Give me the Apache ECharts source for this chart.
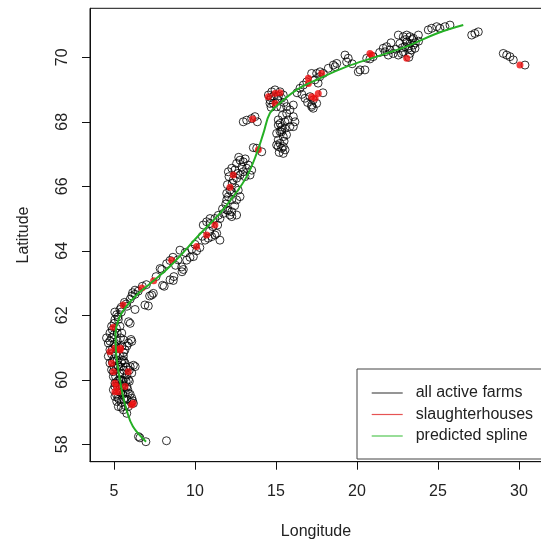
<!DOCTYPE html>
<html>
<head>
<meta charset="utf-8">
<script src="https://cdn.jsdelivr.net/npm/echarts@6/dist/echarts.min.js"></script>
<style>html,body{margin:0;padding:0;background:#fff}#c{width:541px;height:540px}</style>
</head>
<body>
<div id="c"></div>
<script>
// tick values
var xTicks = [5, 10, 15, 20, 25, 30];
var yTicks = [58, 60, 62, 64, 66, 68, 70];
var legendNames = ['all active farms', 'slaughterhouses', 'predicted spline'];
var legendColors = ['#222222', '#e02828', '#28b828'];

// all active farms [longitude, latitude]
var farmsSouth = [
  [6.51,58.24],[6.6,58.2],[6.97,58.08],[8.24,58.11],
  [5.37,62.18],[5.17,62.02],[5.06,61.87],[4.85,61.66],[4.75,61.45],[4.54,61.30],[4.65,61.14],[4.75,60.93],
  [4.65,60.73],[4.75,60.52],[4.85,60.31],[4.96,60.10],[5.06,59.90],[4.96,59.69],[5.06,59.48],[5.17,59.33],
  [5.27,59.17],[5.58,59.07],[5.79,58.96],
  [5.27,61.87],[5.37,61.66],[5.48,61.45],[5.58,61.24],[5.89,61.14],[6.10,61.19],[5.68,60.93],[5.58,60.73],
  [5.68,60.52],[6.00,60.41],[6.31,60.41],[6.10,60.21],[5.89,60.00],[5.79,59.79],[5.89,59.59],[6.10,59.43],
  [6.20,59.27],[5.89,59.17],
  [5.3,61.0],[5.2,60.6],[5.4,60.4],[5.3,60.0],[5.5,59.8],[5.4,59.6],[5.6,59.4],[5.5,60.2],[5.1,60.8],
  [5.2,61.2],[5.0,61.4],[5.4,60.0],[5.0,60.4],[5.5,60.6],[5.7,59.6],[5.2,59.8],[5.0,61.1],[5.3,59.4],
  [5.9,61.8],[6.0,61.75],[6.3,62.18],[5.8,62.28],[6.1,62.6],[6.3,62.65],[6.91,62.32],[7.12,62.29],
  [7.33,62.63],[7.43,62.68],[8.1,62.9],[8.0,62.93],[8.7,63.2],[9.2,63.35],
  [5.45,62.1],[5.25,61.95],[5.0,61.75],[5.15,61.6],[4.9,61.55],[5.2,61.45],[4.85,61.3],[5.4,61.3],
  [4.75,61.2],[5.1,61.05],[5.5,61.05],[4.9,60.95],[5.6,60.85],[4.85,60.8],[5.35,60.75],[5.0,60.65],
  [5.6,60.6],[4.9,60.55],[5.25,60.45],[5.75,60.4],[5.15,60.35],[5.6,60.3],[4.95,60.25],[5.35,60.2],
  [5.8,60.15],[5.1,60.1],[5.65,60.05],[5.2,59.95],[5.95,59.95],[5.05,59.8],[5.6,59.75],[5.35,59.7],
  [5.85,59.7],[5.15,59.55],[5.55,59.55],[6.0,59.55],[5.25,59.45],[5.8,59.4],[5.45,59.3],[6.05,59.3],
  [5.7,59.2],[5.45,59.15],[6.15,59.35],[5.95,60.3],[6.2,60.45],[5.8,61.05],[6.05,61.25],[5.05,62.1],
  [5.45,62.25],[5.65,62.4],[5.75,62.35],[6.0,62.5],[6.15,62.7],[6.5,62.75],[6.75,62.9],[5.55,59.95],
  [5.75,59.95],[5.45,60.55]
];
var farmsCentral = [
  [6.30,62.78],[7.2,62.6],[7.85,63.45],[7.95,63.42],[8.46,63.1],[8.66,63.08],[8.25,63.6],[8.46,63.7],
  [8.64,63.8],[8.95,63.72],[9.07,64.02],[9.18,63.5],[9.28,63.42],[9.69,63.8],[9.9,63.82],[9.49,63.71],
  [10.1,64.0],[10.3,64.1],[10.62,64.33],[10.82,64.39],[11.03,64.44],[11.23,64.49],[10.51,64.8],[10.72,64.9],
  [10.93,65.0],[11.23,65.0],[11.44,65.1],[11.34,64.54],[11.54,64.33],[10.93,64.85],[11.54,65.0],
  [11.75,65.16],[11.96,65.27],[12.27,65.21],[12.16,65.11],[11.96,65.58],[12.06,65.68],[12.27,65.58],
  [12.16,65.88],[12.27,65.83],[11.96,65.78],[12.36,66.20],[12.57,66.25],[12.78,66.35],[12.98,66.45],
  [13.19,66.56],[13.29,66.66],[12.06,66.45],[12.27,66.56],[12.47,66.51],[12.57,66.71],[12.78,66.81],
  [12.98,66.76],[13.09,66.30],[13.40,66.35],[12.67,65.88],[12.78,65.68],[12.57,65.58],[12.27,65.06],
  [12.57,65.11],[13.81,67.18],[14.12,67.07],[12.98,68.0],[13.19,68.05],[13.50,68.1],[13.70,68.16],
  [7.6,63.2],[7.0,62.95],[8.8,63.55],[9.4,63.95],[9.8,64.05],[10.0,64.2],[10.45,64.45],[10.9,64.6],
  [11.1,64.75],[11.4,64.8],[11.7,65.3],[11.9,65.45],[12.0,66.05],[12.3,66.1],[12.5,65.95],[12.1,66.3],
  [12.65,66.4],[12.9,66.6],[13.1,66.85],[12.7,66.9],[13.5,66.5],[12.45,65.4],[12.05,65.25],[13.6,67.2],
  [13.85,68.0]
];
var farmsNorth = [
  [14.63,68.57],[15.14,68.06],[15.25,67.95],[15.35,67.85],[15.35,67.69],[15.45,67.54],[15.25,67.33],
  [15.35,67.18],[15.56,67.13],[15.45,67.02],[15.14,67.44],[15.04,67.28],[15.66,68.26],[15.76,68.06],
  [14.53,68.83],[14.74,68.93],[14.94,68.99],[15.25,68.93],[14.63,68.68],[14.84,68.57],[15.04,68.47],
  [15.35,68.73],[15.45,68.83],[15.66,68.47],[15.86,68.37],[16.07,68.52],[15.14,67.90],[15.35,67.75],
  [15.04,67.64],[15.14,67.23],[15.45,67.23],[16.07,68.16],[16.17,68.0],[16.07,67.85],[15.86,67.85],
  [15.56,67.80],[16.48,69.04],[16.69,69.14],[16.90,69.24],[16.79,68.73],[17.10,68.78],[17.30,68.68],
  [17.51,68.57],[17.20,68.52],[17.2,68.47],[17.3,68.42],[17.2,69.50],[17.51,69.50],[17.72,69.55],
  [17.92,69.50],[18.23,69.66],[18.54,69.76],[19.26,70.07],[19.46,69.97],[19.36,69.86],[18.75,69.81],
  [18.65,69.71],[20.08,69.55],[20.19,69.61],[20.49,69.61],[20.60,69.97],[21.0,70.02],[21.62,70.28],
  [21.83,70.33],[22.04,70.23],[21.73,70.17],[21.93,70.07],[22.24,70.12],[22.55,70.07],[22.75,70.12],
  [22.55,70.69],[22.86,70.64],[23.07,70.69],[23.27,70.64],[23.48,70.59],[23.79,70.69],[23.07,70.48],
  [23.27,70.43],[23.48,70.38],[23.17,70.28],[23.37,70.23],[23.58,70.28],[22.96,70.33],[23.27,70.12],
  [22.86,70.17],[22.65,70.43],[24.40,70.85],[24.61,70.90],[24.92,70.95],[25.12,70.90],[25.43,70.95],
  [25.74,71.0],[27.08,70.69],[27.28,70.74],[27.49,70.79],[29.03,70.12],[29.24,70.07],[29.44,70.02],
  [29.65,69.92],[30.37,69.76],
  [14.7,68.75],[14.85,68.8],[15.1,68.7],[15.15,68.8],[14.7,68.45],[15.5,68.6],[15.3,68.45],[15.4,68.2],
  [15.55,68.0],[15.25,67.7],[15.5,67.4],[15.2,67.05],[15.65,67.6],[16.3,68.9],[16.6,68.85],[17.4,69.3],
  [17.6,69.2],[17.7,69.4],[17.9,68.9],[16.95,68.6],[19.7,69.8],[21.4,70.15],[22.4,70.25],[22.8,70.3],
  [23.6,70.45],[23.4,70.55],[23.0,70.55],[22.1,70.45],[23.8,70.5],[20.8,69.95],[23.2,70.0]
];
// slaughterhouses
var slaughterhouses = [
  [5.57,62.32],[4.96,61.63],[5.41,60.98],[5.06,60.98],[4.75,60.87],[5.37,60.92],[4.86,60.51],[4.96,60.25],
  [5.88,60.25],[5.06,59.89],[5.17,59.79],[5.68,59.79],[5.27,59.63],[5.06,59.63],[6.09,59.22],[6.19,59.27],
  [6.72,62.85],[7.45,63.07],[8.56,63.71],[10.1,64.13],[10.72,64.49],[11.23,64.8],[12.16,65.97],[12.36,66.35],
  [13.91,67.13],[13.56,68.09],[14.53,68.78],[14.94,68.57],[14.94,68.88],[15.25,68.90],[17.0,69.35],
  [17.0,69.19],[17.2,68.78],[17.41,68.73],[17.61,68.88],[17.82,69.50],[20.80,70.12],[20.91,70.07],
  [23.07,69.97],[30.06,69.76]
];
// predicted spline
var splineLon = [6.98,6.17,5.78,5.48,5.27,5.12,5.10,5.27,5.68,6.40,7.22,8.46,10.31,11.54,12.35,13.19,13.81,14.22,14.63,15.25,16.28,17.72,19.36,21.22,23.27,24.92,26.56];
var splineLat = [58.08,58.55,59.06,59.68,60.30,60.92,61.44,61.86,62.22,62.63,62.98,63.52,64.52,65.16,65.67,66.30,67.02,67.64,68.27,68.58,68.99,69.35,69.71,70.02,70.38,70.74,71.00];

var splineData = splineLon.map(function (v, i) { return [v, splineLat[i]]; });
var farms = farmsSouth.concat(farmsCentral, farmsNorth);

var FONT = 'Liberation Sans, Arial, sans-serif';
var chart = echarts.init(document.getElementById('c'), null, {renderer: 'canvas'});
chart.setOption({
  animation: false,
  backgroundColor: '#fff',
  textStyle: {fontFamily: FONT},
  grid: {left: 90, top: 8.3, right: -1, bottom: 78.3, show: true, borderColor: '#111', borderWidth: 1,
         backgroundColor: 'transparent', containLabel: false, outerBoundsMode: 'none'},
  xAxis: {
    type: 'value', min: 3.52, max: 31.42,
    name: 'Longitude', nameLocation: 'middle', nameGap: 62,
    nameTextStyle: {fontSize: 16, color: '#222', fontFamily: FONT},
    axisLine: {show: true, onZero: false, lineStyle: {color: '#111', width: 1}},
    axisTick: {show: true, length: 8, customValues: xTicks, lineStyle: {color: '#111'}},
    axisLabel: {customValues: xTicks, fontSize: 16, color: '#222', margin: 22, fontFamily: FONT},
    splitLine: {show: false}
  },
  yAxis: {
    type: 'value', min: 57.46, max: 71.52,
    name: 'Latitude', nameLocation: 'middle', nameGap: 58,
    nameTextStyle: {fontSize: 16, color: '#222', fontFamily: FONT},
    axisLine: {show: true, onZero: false, lineStyle: {color: '#111', width: 1}},
    axisTick: {show: true, length: 8, customValues: yTicks, lineStyle: {color: '#111'}},
    axisLabel: {customValues: yTicks, fontSize: 16, color: '#222', margin: 19, rotate: 90, fontFamily: FONT},
    splitLine: {show: false}
  },
  legend: {
    data: legendNames,
    orient: 'vertical', left: 357, top: 369,
    backgroundColor: '#fff', borderColor: '#444', borderWidth: 1,
    padding: [16, 200, 15, 14.7],
    icon: 'rect',
    itemWidth: 31, itemHeight: 1.2, itemGap: 5.5,
    selectedMode: false,
    textStyle: {fontSize: 16, color: '#222', fontFamily: FONT, padding: [0, 0, 0, 8]}
  },
  series: [
    {name: 'farms', type: 'scatter', data: farms, symbol: 'circle', symbolSize: 8,
     itemStyle: {color: 'rgba(0,0,0,0)', borderColor: '#000', borderWidth: 1}, z: 2},
    {name: 'sh', type: 'scatter', data: slaughterhouses, symbol: 'circle', symbolSize: 7,
     itemStyle: {color: '#f01010', borderWidth: 0}, z: 3},
    {name: 'spline', type: 'line', data: splineData, smooth: 0.4, symbol: 'none',
     lineStyle: {color: '#25b025', width: 2}, z: 4},
    {name: legendNames[0], type: 'scatter', data: [], itemStyle: {color: legendColors[0], borderWidth: 0}},
    {name: legendNames[1], type: 'scatter', data: [], itemStyle: {color: legendColors[1], borderWidth: 0}},
    {name: legendNames[2], type: 'scatter', data: [], itemStyle: {color: legendColors[2], borderWidth: 0}}
  ]
});
</script>
</body>
</html>
